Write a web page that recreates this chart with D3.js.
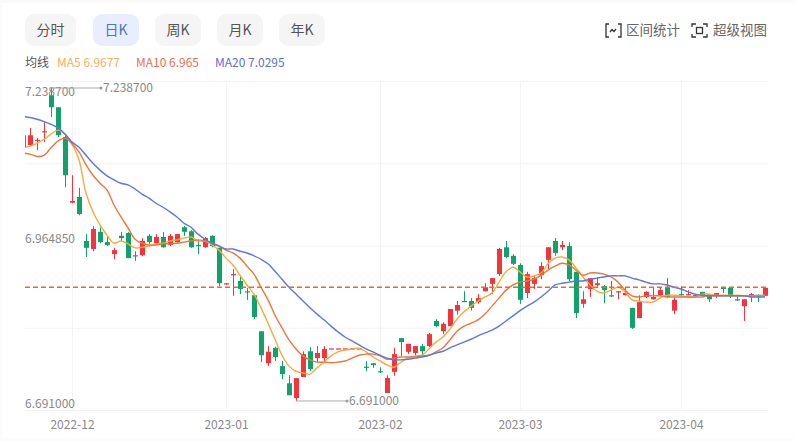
<!DOCTYPE html>
<html>
<head>
<meta charset="utf-8">
<script src="https://cdnjs.cloudflare.com/ajax/libs/d3/7.8.5/d3.min.js"></script>
<style>
  html, body { margin: 0; padding: 0; background: #fff; overflow: hidden; }
  svg { display: block; font-family: "Noto Sans CJK SC", "Noto Sans", sans-serif; }
</style>
</head>
<body>
<svg id="chart" width="795" height="441"></svg>
<script>
// daily candles
const opens = [7.156,7.139,7.146,7.161,7.226,7.205,7.153,7.038,7.048,6.971,6.957,6.987,6.969,6.948,6.980,6.985,6.946,6.946,6.980,6.967,6.978,6.964,6.969,6.995,6.988,6.964,6.960,6.980,6.959,6.895,6.911,6.901,6.883,6.876,6.813,6.757,6.784,6.752,6.722,6.696,6.733,6.778,6.766,6.766,6.783,6.783,6.783,6.783,6.783,6.751,6.757,6.743,6.705,6.742,6.801,6.777,6.775,6.787,6.787,6.831,6.813,6.822,6.849,6.866,6.866,6.864,6.883,6.896,6.913,6.960,6.945,6.929,6.880,6.896,6.911,6.938,6.971,6.960,6.962,6.917,6.861,6.887,6.894,6.892,6.876,6.881,6.876,6.854,6.836,6.873,6.869,6.876,6.889,6.849,6.878,6.876,6.875,6.882,6.878,6.876,6.889,6.889,6.869,6.857,6.876,6.876,6.875];
const closes = [7.135,7.156,7.148,7.163,7.205,7.156,7.086,7.041,7.018,6.959,6.992,6.969,6.964,6.955,6.976,6.941,6.945,6.971,6.969,6.978,6.960,6.980,6.983,6.987,6.960,6.962,6.976,6.962,6.897,6.897,6.913,6.887,6.882,6.838,6.771,6.777,6.768,6.738,6.701,6.731,6.773,6.747,6.775,6.782,6.783,6.783,6.783,6.783,6.783,6.750,6.754,6.742,6.731,6.773,6.794,6.791,6.787,6.778,6.808,6.822,6.826,6.852,6.859,6.864,6.854,6.871,6.890,6.906,6.957,6.943,6.931,6.868,6.913,6.906,6.927,6.960,6.950,6.964,6.904,6.845,6.869,6.906,6.897,6.885,6.875,6.883,6.880,6.819,6.864,6.882,6.873,6.885,6.873,6.868,6.876,6.878,6.877,6.875,6.869,6.880,6.887,6.876,6.868,6.869,6.878,6.875,6.889];
const lows = [7.134,7.137,7.130,7.144,7.188,7.153,7.065,7.037,7.016,6.943,6.953,6.967,6.962,6.939,6.971,6.941,6.936,6.945,6.966,6.966,6.959,6.962,6.967,6.980,6.959,6.948,6.959,6.960,6.892,6.894,6.875,6.878,6.868,6.834,6.759,6.752,6.761,6.729,6.701,6.691,6.733,6.743,6.759,6.759,6.783,6.783,6.783,6.783,6.783,6.743,6.749,6.740,6.705,6.735,6.770,6.773,6.770,6.771,6.785,6.820,6.808,6.822,6.842,6.864,6.849,6.861,6.883,6.878,6.910,6.941,6.929,6.861,6.871,6.887,6.904,6.922,6.945,6.955,6.901,6.836,6.854,6.873,6.889,6.862,6.873,6.869,6.876,6.817,6.836,6.871,6.869,6.875,6.871,6.843,6.875,6.876,6.875,6.873,6.864,6.871,6.880,6.871,6.866,6.831,6.864,6.864,6.875];
const highs = [7.160,7.169,7.151,7.179,7.2387,7.205,7.156,7.086,7.064,6.983,6.997,6.995,6.978,6.959,6.987,6.987,6.953,6.976,6.983,6.983,6.987,6.983,6.983,6.997,6.990,6.973,6.978,6.981,6.959,6.897,6.922,6.908,6.889,6.876,6.813,6.787,6.786,6.761,6.736,6.731,6.778,6.785,6.787,6.787,6.783,6.783,6.783,6.783,6.783,6.761,6.757,6.750,6.736,6.784,6.801,6.791,6.787,6.791,6.810,6.834,6.829,6.852,6.866,6.883,6.871,6.878,6.897,6.906,6.959,6.971,6.948,6.932,6.917,6.910,6.934,6.960,6.976,6.971,6.969,6.917,6.883,6.906,6.908,6.894,6.901,6.883,6.889,6.854,6.876,6.883,6.889,6.890,6.906,6.873,6.892,6.885,6.877,6.882,6.878,6.880,6.890,6.889,6.876,6.869,6.880,6.878,6.889];

// moving averages
const ma5 = [7.134,7.137,7.142,7.149,7.158,7.165,7.158,7.141,7.113,7.055,7.022,6.999,6.981,6.967,6.971,6.966,6.959,6.960,6.962,6.966,6.967,6.971,6.973,6.976,6.978,6.971,6.971,6.964,6.955,6.941,6.929,6.911,6.894,6.878,6.854,6.827,6.799,6.771,6.752,6.743,6.740,6.738,6.749,6.759,6.770,6.777,6.780,6.782,6.783,6.777,6.768,6.761,6.754,6.750,6.759,6.766,6.770,6.771,6.782,6.794,6.803,6.817,6.834,6.847,6.857,6.866,6.873,6.880,6.899,6.917,6.925,6.917,6.908,6.910,6.915,6.931,6.941,6.943,6.938,6.924,6.908,6.894,6.883,6.880,6.885,6.890,6.882,6.868,6.866,6.864,6.864,6.871,6.876,6.876,6.875,6.873,6.873,6.878,6.878,6.876,6.876,6.876,6.876,6.875,6.875,6.876,6.876];
const ma10 = [7.125,7.123,7.119,7.121,7.134,7.146,7.151,7.141,7.127,7.104,7.086,7.072,7.060,7.034,7.013,6.994,6.974,6.967,6.964,6.964,6.966,6.966,6.967,6.969,6.971,6.973,6.971,6.967,6.962,6.955,6.950,6.941,6.927,6.913,6.890,6.868,6.841,6.819,6.798,6.782,6.770,6.763,6.759,6.759,6.758,6.759,6.761,6.766,6.771,6.773,6.773,6.770,6.764,6.766,6.768,6.768,6.768,6.770,6.771,6.777,6.784,6.798,6.813,6.822,6.827,6.833,6.843,6.857,6.871,6.885,6.894,6.899,6.901,6.904,6.911,6.920,6.927,6.932,6.929,6.920,6.911,6.915,6.915,6.913,6.908,6.899,6.885,6.875,6.873,6.875,6.875,6.875,6.873,6.873,6.873,6.873,6.873,6.873,6.875,6.875,6.875,6.875,6.875,6.875,6.875,6.875,6.875];
const ma20 = [7.189,7.187,7.184,7.180,7.175,7.169,7.158,7.144,7.135,7.121,7.107,7.095,7.085,7.078,7.072,7.069,7.062,7.053,7.046,7.037,7.030,7.022,7.013,7.002,6.995,6.983,6.974,6.967,6.962,6.957,6.957,6.953,6.950,6.945,6.939,6.931,6.918,6.904,6.890,6.878,6.866,6.854,6.843,6.833,6.822,6.812,6.803,6.796,6.789,6.782,6.777,6.771,6.766,6.763,6.763,6.764,6.766,6.768,6.771,6.775,6.778,6.784,6.789,6.794,6.799,6.805,6.810,6.815,6.822,6.831,6.840,6.849,6.857,6.864,6.873,6.883,6.894,6.897,6.899,6.901,6.901,6.904,6.906,6.908,6.910,6.910,6.910,6.906,6.903,6.899,6.896,6.896,6.894,6.890,6.887,6.882,6.878,6.876,6.875,6.875,6.875,6.875,6.875,6.875,6.873,6.873,6.873];

const tickIndex = [7, 29, 51, 71, 94];
const tickLabels = ['2022-12', '2023-01', '2023-02', '2023-03', '2023-04'];
const priceLabels = ['7.238700', '6.964850', '6.691000'];
const lastPrice = 6.8901;
const highIndex = 4, highValue = 7.2387;
const lowIndex = 39, lowValue = 6.691;
const periods = ['分时', '日K', '周K', '月K', '年K'];
const maNames = ['MA5 6.9677', 'MA10 6.965', 'MA20 7.0295'];

const upColor = '#f4333c';
const downColor = '#0fa36b';
const maColors = ['#f5ab3d', '#f0753b', '#5b78e0'];
const legendColors = ['#f3b063', '#ee6f4e', '#5b6fd6'];

const svg = d3.select('#chart');
const plotLeft = 25, plotRight = 768, plotTop = 81, plotBottom = 410;

// page edges are a touch grey in the screenshot
svg.append('rect').attr('width', 795).attr('height', 441).attr('fill', '#fff');
svg.append('rect').attr('width', 795).attr('height', 3).attr('fill', '#fafafa');
svg.append('rect').attr('width', 2).attr('height', 441).attr('fill', '#fbfbfb');
svg.append('rect').attr('y', 438).attr('width', 795).attr('height', 3).attr('fill', '#fcfcfc');

// period buttons
const btnX = [25, 93, 155, 217, 279];
const btnW = [51, 46, 46, 46, 46];
periods.forEach((p, i) => {
    const active = i === 1;
    svg.append('rect')
        .attr('x', btnX[i]).attr('y', 14).attr('width', btnW[i]).attr('height', 32).attr('rx', 9)
        .attr('fill', active ? '#e9eeff' : '#f5f5f5');
    svg.append('text')
        .attr('x', btnX[i] + btnW[i] / 2).attr('y', 35)
        .attr('text-anchor', 'middle').attr('font-size', 14)
        .attr('fill', active ? '#5470c6' : '#555')
        .text(p);
});

// legend row
svg.append('text').attr('x', 25).attr('y', 67).attr('font-size', 12).attr('fill', '#555').text('均线');
const legendX = [57, 136, 215];
maNames.forEach((m, i) => {
    svg.append('text').attr('x', legendX[i]).attr('y', 67).attr('font-size', 12)
        .attr('fill', legendColors[i]).text(m);
});

// top right tools
const tools = svg.append('g').attr('fill', 'none').attr('stroke', '#333').attr('stroke-width', 1.3);
tools.append('path').attr('d', 'M609 24h-3v13h3M618 24h3v13h-3');
tools.append('path').attr('d', 'M610 32l2-2.500l2 2l2-2.500');
tools.append('path').attr('d', 'M692 27v-3h4M703 24h4v3M707 34v3h-4M696 37h-4v-3');
tools.append('rect').attr('x', 696.500).attr('y', 27.500).attr('width', 6).attr('height', 6);
svg.append('text').attr('x', 626).attr('y', 35).attr('font-size', 13.500).attr('fill', '#666').text('区间统计');
svg.append('text').attr('x', 713).attr('y', 35).attr('font-size', 13.500).attr('fill', '#666').text('超级视图');

// scales
const x = d3.scalePoint().domain(d3.range(opens.length)).range([23, 765]);
const y = d3.scaleLinear().domain([7.25095, 6.6752]).range([plotTop, plotBottom]);

svg.append('defs').append('clipPath').attr('id', 'plot')
    .append('rect').attr('x', plotLeft).attr('y', plotTop).attr('width', plotRight - plotLeft).attr('height', plotBottom - plotTop);

// grid
const gridY = d3.range(5).map(i => plotTop + (plotBottom - plotTop) * i / 4);
svg.append('g').selectAll('line').data(gridY).join('line')
    .attr('x1', plotLeft).attr('x2', plotRight).attr('y1', d => d + 0.5).attr('y2', d => d + 0.5)
    .attr('stroke', '#f3f3f3');
svg.append('g').selectAll('line').data(tickIndex).join('line')
    .attr('x1', d => x(d) + 0.5).attr('x2', d => x(d) + 0.5).attr('y1', plotTop).attr('y2', plotBottom)
    .attr('stroke', '#f3f3f3');

// x axis
const xAxis = d3.axisBottom(x).tickValues(tickIndex).tickSize(0).tickPadding(10)
    .tickFormat((d, i) => tickLabels[i]);
const xAxisG = svg.append('g').attr('transform', `translate(0,${plotBottom})`).call(xAxis);
xAxisG.select('.domain').remove();
xAxisG.attr('font-family', null);
xAxisG.selectAll('text').attr('font-size', 12).attr('fill', '#888');

const plot = svg.append('g').attr('clip-path', 'url(#plot)');

// candles
const candles = plot.append('g').selectAll('g').data(d3.range(opens.length)).join('g')
    .attr('stroke', i => closes[i] >= opens[i] ? upColor : downColor)
    .attr('fill', i => closes[i] >= opens[i] ? upColor : downColor);
candles.append('line')
    .attr('x1', i => x(i) + 0.5).attr('x2', i => x(i) + 0.5)
    .attr('y1', i => y(highs[i])).attr('y2', i => y(lows[i]));
candles.append('rect')
    .attr('stroke', 'none')
    .attr('x', i => x(i) - 2).attr('width', 5)
    .attr('y', i => y(Math.max(opens[i], closes[i])))
    .attr('height', i => Math.max(1.2, Math.abs(y(opens[i]) - y(closes[i]))));

// moving average lines
[ma5, ma10, ma20].forEach((s, k) => {
    const line = d3.line().x((d, i) => x(i)).y(d => y(d)).curve(d3.curveCatmullRom);
    plot.append('path').attr('d', line(s))
        .attr('fill', 'none').attr('stroke', maColors[k]).attr('stroke-width', 1.4);
});

// last price line
svg.append('line')
    .attr('x1', plotLeft).attr('x2', plotRight).attr('y1', y(lastPrice)).attr('y2', y(lastPrice))
    .attr('stroke', '#f2661f').attr('stroke-dasharray', '5 3').attr('stroke-width', 1.5);

// price labels sit on the inside of the plot
svg.selectAll('.price').data(priceLabels).join('text')
    .attr('class', 'price')
    .attr('x', plotLeft).attr('y', (d, i) => [96, 243, 408][i])
    .attr('font-size', 12).attr('fill', '#888').text(d => d);

// high / low markers
const markers = [[highIndex, highValue, 101, '7.238700'], [lowIndex, lowValue, 347, '6.691000']];
markers.forEach(m => {
    const my = y(m[1]);
    svg.append('line').attr('x1', x(m[0])).attr('x2', m[2]).attr('y1', my).attr('y2', my)
        .attr('stroke', '#aaa').attr('stroke-width', 1);
    svg.append('circle').attr('cx', m[2]).attr('cy', my).attr('r', 1.5).attr('fill', '#999');
    svg.append('text').attr('x', m[2] + 2).attr('y', my + 4).attr('font-size', 12).attr('fill', '#888').text(m[3]);
});
</script>
</body>
</html>
